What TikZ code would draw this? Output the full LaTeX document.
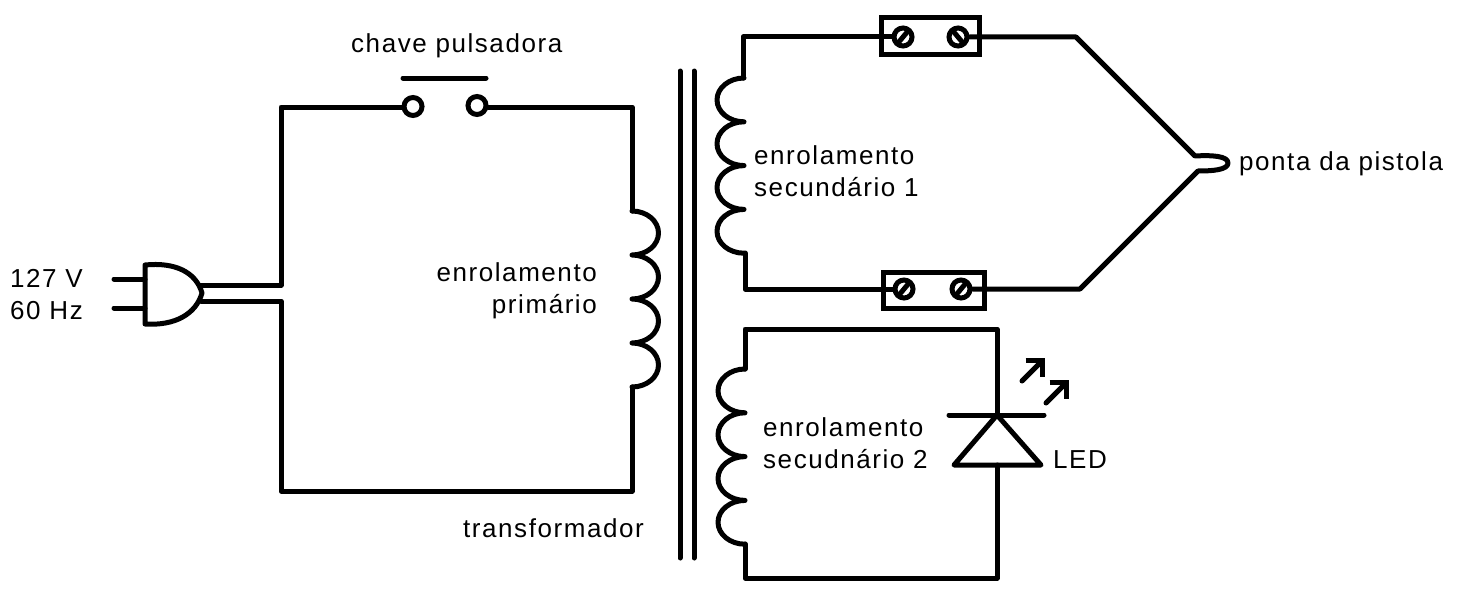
\documentclass[tikz,border=0pt]{standalone}
\usepackage{fontspec}
\setmainfont[LetterSpace=6]{Liberation Sans}
\usetikzlibrary{arrows.meta}
\tikzset{
  wire/.style={line width=5pt, line join=round, line cap=round},
  label/.style={font=\fontsize{26}{32}\selectfont, inner sep=0pt, align=left},
  terminal/.style={circle, draw, line width=5pt, fill=white, minimum size=18pt, inner sep=0pt},
  screw/.style={circle, draw, line width=5pt, minimum size=18pt, inner sep=0pt},
  fuse/.style={rectangle, draw, line width=5pt, inner sep=0pt},
  light/.style={wire, -{Straight Barb[length=12pt,width=24pt,line width=5pt]}}
}
\begin{document}
\begin{tikzpicture}[x=1pt,y=-1pt]
    \useasboundingbox (0,0) rectangle (1466,594);
    % plug
    \coordinate (pinA) at (114,279);
    \coordinate (pinB) at (114,308);
    \coordinate (plugA) at (145,279);
    \coordinate (plugB) at (145,308);
    \coordinate (outA) at (201,285);
    \coordinate (outB) at (201,301);
    \draw[wire] (pinA) -- (plugA);
    \draw[wire] (pinB) -- (plugB);
    \draw[wire] (145,265) .. controls (175,262) and (196,272) .. (202,293) .. controls (196,314) and (175,326) .. (145,324) -- cycle;
    \node[label, anchor=west] (mains) at (10,295) {127 V\\60 Hz};
    % primary circuit
    \coordinate (cornerA) at (281,285);
    \coordinate (cornerB) at (281,301);
    \coordinate (cornerC) at (281,107);
    \coordinate (cornerD) at (281,491);
    \coordinate (cornerE) at (632,107);
    \coordinate (cornerF) at (632,491);
    \coordinate (coilPtop) at (632,211);
    \coordinate (coilPbot) at (632,387);
    \node[terminal] (swA) at (413,106.5) {};
    \node[terminal] (swB) at (477,105.5) {};
    \coordinate (barA) at (403,78);
    \coordinate (barB) at (486,78);
    \draw[wire] (barA) -- (barB);
    \draw[wire] (outA) -- (cornerA) -- (cornerC) -- (swA.west |- cornerC);
    \draw[wire] (swB.east |- cornerE) -- (cornerE) -- (coilPtop);
    \draw[wire] (outB) -- (cornerB) -- (cornerD) -- (cornerF) -- (coilPbot);
    \draw[wire] (coilPtop) \foreach \i in {1,...,4} {arc (90:-90:26.5pt and 22pt)};
    \node[label, anchor=east, align=right] (prim) at (597,291) {enrolamento\\prim\'ario};
    \node[label, anchor=west] (chave) at (351,46) {chave pulsadora};
    % core
    \coordinate (coreA) at (680,71);
    \coordinate (coreB) at (680,558);
    \coordinate (coreC) at (694,71);
    \coordinate (coreD) at (694,558);
    \draw[wire] (coreA) -- (coreB);
    \draw[wire] (coreC) -- (coreD);
    \node[label, anchor=west] (trafo) at (463,528) {transformador};
    % secondary 1
    \coordinate (sA) at (743,37);
    \coordinate (sB) at (745,289);
    \coordinate (coilAtop) at (744,78);
    \coordinate (coilAbot) at (745,253);
    \coordinate (bendA) at (1076,37);
    \coordinate (bendB) at (1080,289);
    \coordinate (tipA) at (1195,156);
    \coordinate (tipB) at (1198,171);
    \node[fuse, minimum width=98pt, minimum height=37pt] (fuseA) at (930,36.5) {};
    \node[fuse, minimum width=101pt, minimum height=36pt] (fuseB) at (933.5,290) {};
    \node[screw] (screwA) at (903,37) {};
    \node[screw] (screwB) at (958,37) {};
    \node[screw] (screwC) at (904,289) {};
    \node[screw] (screwD) at (961,289) {};
    \draw[wire] (coilAtop -| sA) -- (sA) -- (screwA);
    \draw[wire] (screwB) -- (bendA) -- (tipA) .. controls (1212,155) and (1228,156) .. (1228,163) .. controls (1228,170) and (1212,171) .. (tipB) -- (bendB) -- (screwD);
    \draw[wire] (coilAbot) -- (sB) -- (screwC);
    \draw[wire] (coilAtop) \foreach \i in {1,...,4} {arc (90:270:27pt and 21.9pt)};
    \draw[wire] (screwA.center) ++(-5,6) -- ++(10,-12);
    \draw[wire] (screwB.center) ++(-5,-6) -- ++(10,12);
    \draw[wire] (screwC.center) ++(-5,6) -- ++(10,-12);
    \draw[wire] (screwD.center) ++(-5,6) -- ++(10,-12);
    \node[label, anchor=west] (secA) at (754,171) {enrolamento\\secund\'ario 1};
    \node[label, anchor=west] (tip) at (1239,164) {ponta da pistola};
    % secondary 2
    \coordinate (tA) at (745,329);
    \coordinate (tB) at (997,329);
    \coordinate (tC) at (997,578);
    \coordinate (tD) at (745,578);
    \coordinate (coilBtop) at (745,369);
    \coordinate (coilBbot) at (745,544);
    \coordinate (ledTop) at (997,415);
    \coordinate (ledBot) at (997,465);
    \coordinate (ledL) at (954,465);
    \coordinate (ledR) at (1041,465);
    \coordinate (kathA) at (949,415);
    \coordinate (kathB) at (1044,415);
    \draw[wire] (coilBtop) -- (tA) -- (tB) -- (ledTop);
    \draw[wire] (ledBot) -- (tC) -- (tD) -- (coilBbot);
    \draw[wire] (kathA) -- (kathB);
    \draw[wire] (ledTop) -- (ledL) -- (ledR) -- cycle;
    \draw[wire] (coilBtop) \foreach \i in {1,...,4} {arc (90:270:27pt and 21.9pt)};
    \coordinate (rayA) at (1022,381);
    \coordinate (rayB) at (1045,358);
    \coordinate (rayC) at (1046,403);
    \coordinate (rayD) at (1069,380);
    \draw[light] (rayA) -- (rayB);
    \draw[light] (rayC) -- (rayD);
    \node[label, anchor=west] (secB) at (763,443) {enrolamento\\secudn\'ario 2};
    \node[label, anchor=west] (led) at (1053,460) {LED};
\end{tikzpicture}
\end{document}
